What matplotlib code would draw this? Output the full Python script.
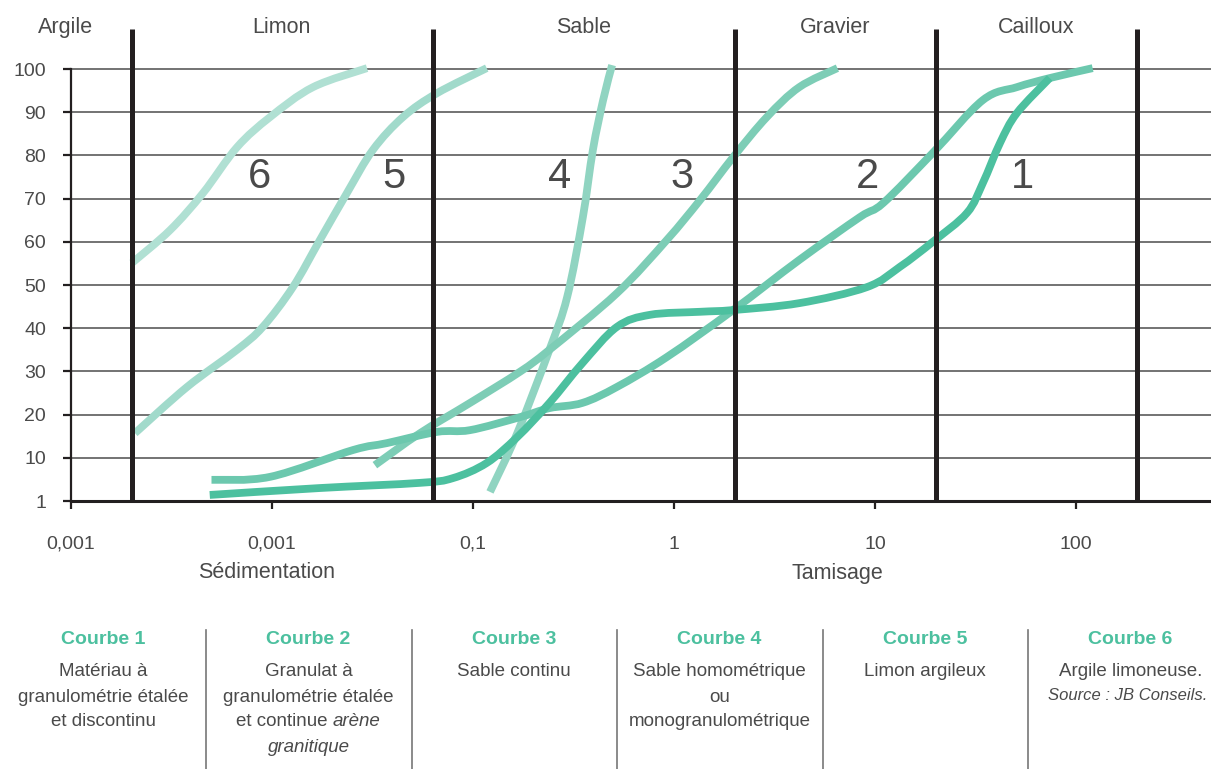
import matplotlib
matplotlib.use("Agg")
import matplotlib.pyplot as plt
from matplotlib.path import Path
from matplotlib.patches import PathPatch
import numpy as np

plt.rcParams['font.family'] = ['Liberation Sans', 'DejaVu Sans']

# granulometric curves : size (mm) / passing (%)
c1_x = [0.0049, 0.0173, 0.0545, 0.0795, 0.117, 0.166, 0.24, 0.35, 0.52, 0.76,
        1.35, 1.97, 4.2, 9.1, 13.3, 19.4, 28.7, 34.4, 41.9, 50.8, 74]
c1_y = [1.4, 3.0, 4.2, 5.3, 8.8, 14.8, 22.7, 31.9, 40.3, 43.1,
        43.8, 44.2, 45.8, 49.5, 54.2, 60.0, 66.7, 73.6, 82.9, 89.8, 97.9]

c2_x = [0.0050, 0.0098, 0.0253, 0.0373, 0.0662, 0.0966, 0.171, 0.24, 0.35, 0.52,
        0.92, 1.97, 4.2, 8.4, 11.0, 19.4, 34.4, 50.8, 74, 121]
c2_y = [4.9, 5.6, 11.8, 13.4, 16.0, 16.4, 19.4, 21.5, 22.7, 26.4,
        33.3, 44.2, 55.8, 65.7, 69.0, 80.6, 92.8, 95.8, 97.9, 100.2]

c3_x = [0.0325, 0.0545, 0.0966, 0.171, 0.24, 0.52, 0.92, 1.35, 1.97, 2.9, 4.2, 6.5]
c3_y = [8.3, 15.7, 22.7, 29.9, 35.0, 48.1, 60.4, 69.7, 79.6, 88.9, 95.8, 100.2]

c4_x = [0.1215, 0.166, 0.24, 0.294, 0.352, 0.395, 0.444, 0.492]
c4_y = [2.1, 15.7, 35.0, 47.2, 65.7, 81.3, 92.8, 100.9]

c5_x = [0.00208, 0.00378, 0.0067, 0.0090, 0.0127, 0.0173, 0.0236, 0.0318,
        0.0449, 0.0662, 0.117]
c5_y = [15.7, 26.4, 35.0, 40.3, 49.5, 60.4, 71.3, 81.3, 88.9, 94.4, 100.2]

c6_x = [0.00201, 0.00311, 0.00454, 0.0067, 0.0098, 0.016, 0.0297]
c6_y = [55.1, 62.7, 71.3, 81.9, 88.9, 95.8, 100.2]

curve_labels = ['1', '2', '3', '4', '5', '6']
label_x = [54, 9.2, 1.1, 0.27, 0.0405, 0.0087]
label_y = 75

# class limits and names
bounds = [0.002, 0.063, 2, 20, 200]
classes = ['Argile', 'Limon', 'Sable', 'Gravier', 'Cailloux']
class_x = [0.00094, 0.0112, 0.355, 6.3, 63]

xticks = [0.001, 0.01, 0.1, 1, 10, 100]
xtick_labels = ['0,001', '0,001', '0,1', '1', '10', '100']
yticks = [0, 10, 20, 30, 40, 50, 60, 70, 80, 90, 100]
ytick_labels = ['1', '10', '20', '30', '40', '50', '60', '70', '80', '90', '100']

card_titles = ['Courbe 1', 'Courbe 2', 'Courbe 3', 'Courbe 4', 'Courbe 5', 'Courbe 6']
card_lines = [
    [[('Matériau à', False)], [('granulométrie étalée', False)], [('et discontinu', False)]],
    [[('Granulat à', False)], [('granulométrie étalée', False)],
     [('et continue ', False), ('arène', True)], [('granitique', True)]],
    [[('Sable continu', False)]],
    [[('Sable homométrique', False)], [('ou', False)], [('monogranulométrique', False)]],
    [[('Limon argileux', False)]],
    [[('Argile limoneuse.', False)]],
]
source = 'Source : JB Conseils.'

colors = ['#4cc09f', '#6cc8ae', '#7dcdb6', '#90d4c1', '#a1dacb', '#b0e0d3']
dark = '#231f20'
grey = '#4a4a4a'
green = '#4cc09f'


def smooth_path(x, y):
    # Catmull-Rom through the read points, drawn as cubic Bezier (log-x space)
    lx = np.log10(x)
    p = np.column_stack([lx, y])
    n = len(p)
    verts = [p[0]]
    codes = [Path.MOVETO]
    for i in range(n - 1):
        p0 = p[i - 1] if i > 0 else p[i]
        p3 = p[i + 2] if i + 2 < n else p[i + 1]
        c1 = p[i] + (p[i + 1] - p0) / 6
        c2 = p[i + 1] - (p3 - p[i]) / 6
        verts += [c1, c2, p[i + 1]]
        codes += [Path.CURVE4] * 3
    verts = np.array(verts)
    verts[:, 0] = 10 ** verts[:, 0]
    return Path(verts, codes)


W, H = 1211, 769
fig = plt.figure(figsize=(W / 100, H / 100), dpi=100)
ax = fig.add_axes([71 / W, 268 / H, 1140 / W, 472 / H])
ax.set_xscale('log')
ax.set_xlim(0.001, 10 ** (-3 + 1140 / 201))
ax.set_ylim(0, 109.26)

for s in ['top', 'right']:
    ax.spines[s].set_visible(False)
ax.spines['left'].set_bounds(0, 100)
ax.spines['left'].set_linewidth(1.6)
ax.spines['left'].set_color(dark)
ax.spines['bottom'].set_linewidth(2.2)
ax.spines['bottom'].set_color(dark)

ax.hlines(yticks[1:], 0.001, 1000, color='#4d4d4d', lw=1.1, zorder=1)

xs = [c1_x, c2_x, c3_x, c4_x, c5_x, c6_x]
ys = [c1_y, c2_y, c3_y, c4_y, c5_y, c6_y]
for i in range(5, -1, -1):
    patch = PathPatch(smooth_path(xs[i], ys[i]), facecolor='none', edgecolor=colors[i],
                      lw=5.6, capstyle='butt', joinstyle='round', zorder=2)
    ax.add_patch(patch)

ax.vlines(bounds, 0, 109.26, color=dark, lw=3.6, zorder=3)

for lab, x in zip(curve_labels, label_x):
    ax.text(x, label_y, lab, fontsize=30, color=grey, ha='center', va='center', zorder=4)

for name, x in zip(classes, class_x):
    ax.text(x, 109.7, name, fontsize=15.5, color=grey, ha='center', va='center', clip_on=False)

ax.set_xticks(xticks)
ax.set_xticklabels(xtick_labels)
ax.minorticks_off()
ax.set_yticks(yticks)
ax.set_yticklabels(ytick_labels)
ax.tick_params(axis='x', length=6, width=1.6, color=dark, pad=19, labelsize=14, labelcolor=grey)
ax.tick_params(axis='y', length=6, width=1.6, color=dark, pad=12, labelsize=14, labelcolor=grey)

fig.text(267 / W, 1 - 573 / H, 'Sédimentation', fontsize=15.5, color=grey, ha='center', va='center')
fig.text(837 / W, 1 - 573 / H, 'Tamisage', fontsize=15.5, color=grey, ha='center', va='center')

# bottom legend cards
renderer = fig.canvas.get_renderer()
card_w = 205.5
for i, title in enumerate(card_titles):
    cx = (103 + i * card_w) / W
    fig.text(cx, 1 - 640 / H, title, fontsize=14, fontweight='bold', color=green,
             ha='center', va='center')
    for j, segs in enumerate(card_lines[i]):
        y = 1 - (672 + j * 25) / H
        texts = []
        for txt, it in segs:
            t = fig.text(0, y, txt, fontsize=13.5, color=grey, ha='left', va='center',
                         style='italic' if it else 'normal')
            texts.append(t)
        widths = [t.get_window_extent(renderer).width for t in texts]
        x0 = cx * W - sum(widths) / 2
        for t, w in zip(texts, widths):
            t.set_x(x0 / W)
            x0 += w
    if i > 0:
        fig.add_artist(plt.Line2D([(i * card_w) / W + 0.5 / W] * 2, [0, 1 - 630 / H],
                                  color='#777777', lw=1.2))

fig.text(1128 / W, 1 - 695 / H, source, fontsize=12, style='italic', color=grey,
         ha='center', va='center')

fig.savefig('out.png', dpi=100)
